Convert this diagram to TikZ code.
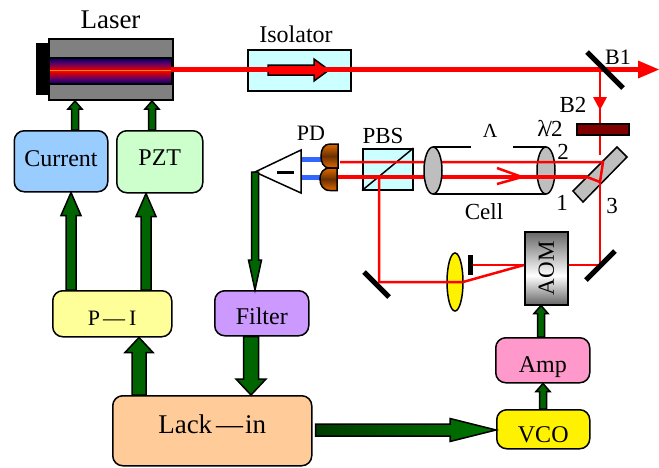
\documentclass[tikz,border=0pt]{standalone}
\usepackage{fontspec}
\setmainfont{Liberation Serif}
\usetikzlibrary{calc,shapes.geometric}
\definecolor{gr}{HTML}{006400}
\definecolor{cy}{HTML}{CCFFFF}
\definecolor{plate}{HTML}{BEBEBE}
\definecolor{pdo}{HTML}{E06A00}
\definecolor{pdb}{HTML}{6A3000}
\definecolor{ccur}{HTML}{99CCFF}
\definecolor{cpzt}{HTML}{CCFFCC}
\definecolor{cpi}{HTML}{FFFF99}
\definecolor{cfil}{HTML}{CC99FF}
\definecolor{clock}{HTML}{FFCC99}
\definecolor{camp}{HTML}{FF99CC}
\definecolor{cwire}{HTML}{3366FF}
\definecolor{gdark}{HTML}{003C00}
\definecolor{glight}{HTML}{007800}
\pgfdeclareverticalshading{bandsh}{100bp}{color(0bp)=(black!60!blue); color(25bp)=(black!60!blue); color(36bp)=(violet!80!black); color(47bp)=(red!85!black); color(50bp)=(red); color(53bp)=(red!85!black); color(64bp)=(violet!80!black); color(75bp)=(black!60!blue); color(100bp)=(black!60!blue)}
\pgfdeclareverticalshading{aomsh}{100bp}{color(0bp)=(black!60); color(25bp)=(black!60); color(45bp)=(white); color(75bp)=(black!60); color(100bp)=(black!60)}
\newcommand\fs[1]{\fontsize{#1}{#1}\selectfont}
\tikzset{
  x=1pt,y=-1pt,
  ol/.style={draw=black,line width=1.5pt},
  boxn/.style={ol,rounded corners=10pt,inner sep=0pt,text height=#1,text depth=0pt,font=\fs{24},anchor=north west},
  txt/.style={inner sep=0pt,font=\fs{23}},
  beam/.style={draw=red,line width=2.5pt},
  mirror/.style={draw=black,line width=5pt},
  hblock/.style={draw=black,line width=1.5pt,line join=miter},
  pdshade/.style={draw=black,line width=1.5pt,top color=pdo,bottom color=pdo,middle color=pdb}
}
% from, to, half shaft, half head, head length, fill options
\newcommand\blockarrow[6]{%
  \coordinate (bh) at ($(#2)!#5pt!(#1)$);
  \path[hblock,#6] ($(#1)!#3pt!90:(#2)$) -- ($(bh)!#3pt!90:(#2)$) -- ($(bh)!#4pt!90:(#2)$) -- (#2)
    -- ($(bh)!#4pt!-90:(#2)$) -- ($(bh)!#3pt!-90:(#2)$) -- ($(#1)!#3pt!-90:(#2)$) -- cycle;}
\newcommand\vblock[7]{%
  \coordinate (vs) at (#1,0 |- #2);
  \coordinate (ve) at (#1,0 |- #3);
  \blockarrow{vs}{ve}{#4}{#5}{#6}{#7}}
\begin{document}
\begin{tikzpicture}
\useasboundingbox (0,0) rectangle (659,467);
% laser
\fill[black] (36,43) rectangle (48,95);
\node[draw=black,line width=2pt,fill=black!50,minimum width=124pt,minimum height=61pt,inner sep=0pt,anchor=north west] (laser) at (48,38) {};
\path[shading=bandsh,draw=black,line width=2pt] (49,58) rectangle (172,84);
\draw[orange!90!yellow,line width=1pt] (50,70.5) -- (171,70.5);
\node[txt,font=\fs{27}] (lasert) at (110.5,20) {Laser};
% isolator
\node[draw=black,line width=1.5pt,fill=cy,minimum width=103pt,minimum height=41pt,inner sep=0pt,anchor=north west] (iso) at (247,49) {};
\node[txt,font=\fs{24}] (isot) at (296,34) {Isolator};
\coordinate (isoa) at (268,70);
\coordinate (isob) at (329,70);
\blockarrow{isoa}{isob}{5}{11}{15}{fill=red}
% beam
\coordinate (bsplit) at (600,69.5);
\draw[red,line width=5pt] (171,69.5) -- (640,69.5);
\fill[red] (638,60.5) -- (659,69.5) -- (638,78.5) -- cycle;
% B1
\draw[mirror] (587,52) -- (623,88);
\node[txt,font=\fs{22}] (b1) at (618,57) {B1};
\node[txt] (b2) at (573,105) {B2};
% plate B2
\node[draw=black,line width=1.5pt,fill=red!50!black,minimum width=52pt,minimum height=11pt,inner sep=0pt,anchor=north west] (hw) at (576,123) {};
\draw[beam] (bsplit) -- (hw.north -| bsplit);
\fill[red] (593,97) -- (607,97) -- (600,110) -- cycle;
\coordinate (ptop) at (600,155);
\draw[beam] (hw.south -| bsplit) -- (ptop);
% tilted plate
\draw[fill=plate,draw=black,line width=1.5pt] (617,147) -- (627,157) -- (583,202) -- (573,191) -- cycle;
% PBS
\node[draw=black,line width=1.5pt,fill=cy,minimum width=50pt,minimum height=41pt,inner sep=0pt,anchor=north west] (pbs) at (362,148) {};
\draw[black,line width=1.5pt] (pbs.south west) -- (pbs.north east);
\node[txt] (pbst) at (383,136) {PBS};
% cell
\draw[black,line width=1.5pt] (433,147) -- (471,147) (513,147) -- (546,147) (433,194) -- (546,194);
\node[draw=black,line width=1.5pt,fill=plate,ellipse,minimum width=18pt,minimum height=47pt,inner sep=0pt] (lenr) at (546,170.5) {};
\node[txt,font=\fs{20}] (lam) at (490,131) {Λ};
\node[txt] (cell) at (484,212) {Cell};
\node[txt] (hwt) at (550,129) {λ\kern-3pt/\kern-1pt 2};
\node[txt] (n2) at (563,152) {2};
\node[txt] (n1) at (562,203) {1};
\node[txt] (n3) at (612,206) {3};
% beams in cavity
\draw[beam] (340,162) -- (603,162) -- (600,182) -- (587,177);
\draw[red,line width=3.2pt] (587,177) -- (337,177);
\draw[beam] (497,168) -- (522,177) -- (497,184);
\draw[beam] (600,182) -- (600,265) -- (567,265);
\node[draw=black,line width=1.5pt,fill=plate,ellipse,minimum width=18pt,minimum height=47pt,inner sep=0pt] (lenl) at (433,170.5) {};
% AOM
\node[draw=black,line width=1.5pt,shading=aomsh,minimum width=43pt,minimum height=73pt,inner sep=0pt,anchor=north west] (aom) at (524,231) {};
\node[txt,rotate=90] (aomt) at (aom.center) {AOM};
\coordinate (aomw) at (aom.west |- 0,265);
\draw[mirror] (586,280) -- (615,251);
% lens & stop
\node[draw=black,line width=1.5pt,fill=yellow,ellipse,minimum width=16pt,minimum height=58pt,inner sep=0pt] (lens) at (455,282) {};
\draw[beam] (aomw) -- (472,265);
\fill[black] (468,255) rectangle (473,275);
\draw[beam] (aomw) -- (463,282) -- (379,282) -- (379,177);
\draw[mirror] (364,272) -- (389,297);
% PD
\draw[cwire,line width=5pt] (301,159) -- (322,159) (299,177) -- (322,177);
\path[pdshade] (338,144) -- (338,168) -- (330,168) .. controls (323,168) and (321,162) .. (321,156) .. controls (321,149) and (324,144) .. (330,144) -- cycle;
\path[pdshade] (337,168) -- (337,190.5) -- (330,190.5) .. controls (323,190.5) and (320,185) .. (320,179) .. controls (320,173) and (323,168) .. (330,168) -- cycle;
\node[txt,font=\fs{22}] (pd) at (311,133) {PD};
\coordinate (amptip) at (255,172);
\draw[black,line width=1.5pt,fill=white,line join=miter] (amptip) -- (301,150) -- (301,193) -- cycle;
\draw[black,line width=3pt] (277,172) -- (294,172);
% boxes
\node[boxn=11pt,fill=ccur,minimum width=93.5pt,minimum height=61pt] (cur) at (13.5,130) {Current};
\node[boxn=8pt,fill=cpzt,minimum width=86pt,minimum height=62pt] (pzt) at (116,130) {PZT};
\node[boxn=24pt,fill=cpi,minimum width=119pt,minimum height=46pt,font=\fs{22}] (pi) at (52,290) {P\kern3pt—\kern4pt I};
\node[boxn=23pt,fill=cfil,minimum width=94pt,minimum height=45pt] (fil) at (214,290) {Filter};
\node[boxn=6pt,fill=clock,minimum width=199pt,minimum height=70pt,font=\fs{27}] (lock) at (112,395) {Lack\kern4pt—\kern2pt in};
\node[boxn=25pt,fill=camp,minimum width=94pt,minimum height=45pt] (amp) at (495,337) {Amp};
\node[boxn=27pt,fill=yellow,minimum width=93pt,minimum height=39pt] (vco) at (496,409) {VCO};
% green arrows
\vblock{75}{cur.north}{laser.south}{3.5}{7}{8}{fill=gr}
\vblock{152}{pzt.north}{laser.south}{3.5}{7}{8}{fill=gr}
\vblock{71}{pi.north}{cur.south}{5}{10}{23}{fill=gr}
\vblock{146}{pi.north}{pzt.south}{5}{10}{23}{fill=gr}
\vblock{139}{lock.north}{pi.south}{7}{14}{15}{fill=gr}
\vblock{251}{fil.south}{lock.north}{7.5}{15}{16}{fill=gr}
\vblock{255}{amptip}{fil.north}{3.5}{6.5}{30}{fill=gr}
\vblock{541}{amp.north}{aom.south}{3.5}{7}{8}{fill=gr}
\vblock{543}{vco.north}{amp.south}{3.5}{7}{8}{fill=gr}
\coordinate (ls) at ($(lock.east |- 0,430)+(3,0)$);
\coordinate (le) at (vco.west |- 0,430);
\blockarrow{ls}{le}{6}{11.5}{46}{left color=gdark,right color=glight}
\end{tikzpicture}
\end{document}
